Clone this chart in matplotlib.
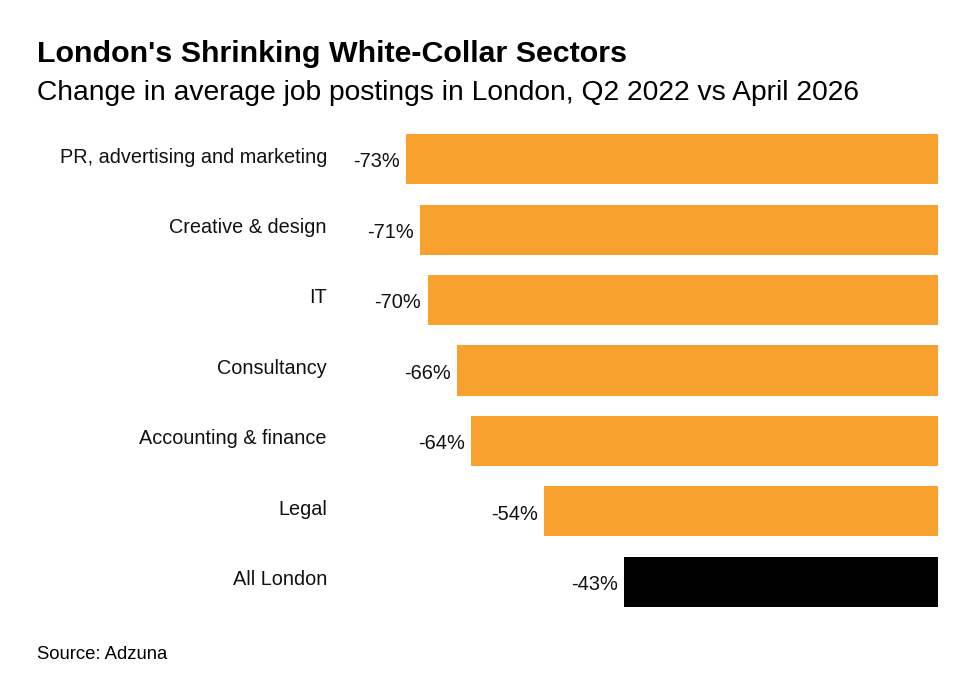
import matplotlib.pyplot as plt

# data
sectors = ['PR, advertising and marketing', 'Creative & design', 'IT',
           'Consultancy', 'Accounting & finance', 'Legal', 'All London']
change = [-73, -71, -70, -66, -64, -54, -43]
colors = ['#F9A12E'] * 6 + ['#000000']

plt.rcParams['font.family'] = ['Liberation Sans', 'DejaVu Sans']

fig = plt.figure(figsize=(9.72, 6.86), dpi=100)
ax = fig.add_axes([340 / 972, (686 - 617) / 686, 598 / 972, 493 / 686])

y = list(range(len(sectors)))
ax.barh(y, change, height=0.71, color=colors)
ax.set_xlim(-82.0, 0)
ax.set_ylim(6.5, -0.5)

# value labels just left of each bar end
for yi, v in zip(y, change):
    ax.annotate(f'{v}%', xy=(v, yi), xytext=(-4.5, -2), textcoords='offset points',
                ha='right', va='center', fontsize=14.4, color='#111111')

# category labels, sitting a little above the bar centre
for yi, name in zip(y, sectors):
    ax.annotate(name, xy=(0, yi), xycoords=('axes fraction', 'data'),
                xytext=(-9.4, 1.5), textcoords='offset points',
                ha='right', va='center', fontsize=14.3, color='#111111')

ax.set_xticks([])
ax.set_yticks([])
for s in ax.spines.values():
    s.set_visible(False)

fig.text(37 / 972, 1 - 62 / 686, "London's Shrinking White-Collar Sectors",
         fontsize=21.9, fontweight='bold', va='baseline', ha='left')
fig.text(37 / 972, 1 - 100 / 686,
         'Change in average job postings in London, Q2 2022 vs April 2026',
         fontsize=20.35, va='baseline', ha='left')
fig.text(37 / 972, 1 - 659 / 686, 'Source: Adzuna', fontsize=13.3,
         va='baseline', ha='left')

fig.savefig('out.png', dpi=100)
